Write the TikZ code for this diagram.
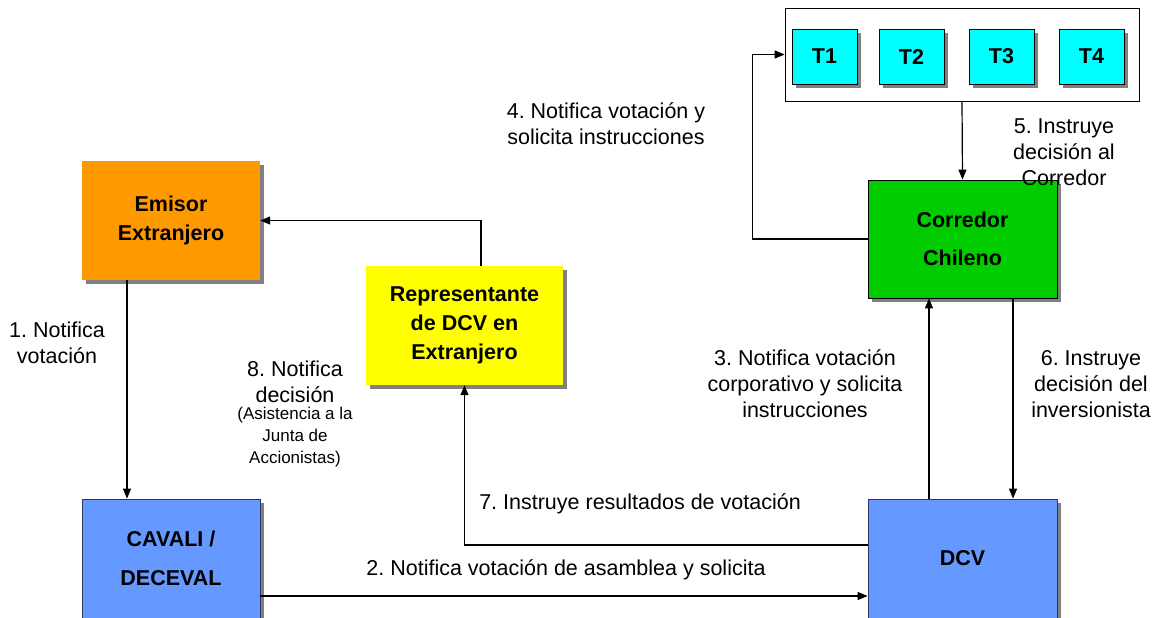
\documentclass[tikz,border=0pt]{standalone}
\usepackage{fontspec}
\setmainfont{Liberation Sans}
\usetikzlibrary{arrows.meta, shadows}

\definecolor{emisorcol}{HTML}{FF9900}
\definecolor{reprcol}{HTML}{FFFF00}
\definecolor{bluecol}{HTML}{6699FF}
\definecolor{greencol}{HTML}{00CC00}
\definecolor{cyancol}{HTML}{00FFFF}
\definecolor{shadowcol}{HTML}{808080}
\definecolor{blueborder}{HTML}{333366}

\begin{document}
\frenchspacing
\begin{tikzpicture}[x=1pt, y=-1pt,
  box/.style={inner sep=0pt, align=center, font=\bfseries\fontsize{21.5}{29}\selectfont,
    drop shadow={shadow xshift=4pt, shadow yshift=-4pt, fill=shadowcol, opacity=1}},
  tbox/.style={box, draw=black, line width=0.8pt, fill=cyancol,
    minimum width=65pt, minimum height=55pt},
  lbl/.style={inner sep=0pt, align=center, font=\fontsize{21.5}{26}\selectfont},
  note/.style={inner sep=0pt, align=center, font=\fontsize{17}{22}\selectfont},
  arr/.style={-{Triangle[length=10pt,width=8pt]}, line width=1.2pt},
]
\useasboundingbox (0,0) rectangle (1165,618);
% Boxes
\node[box, fill=emisorcol, minimum width=178pt, minimum height=119pt] (emisor) at (171,220.5) {Emisor\\Extranjero};
\node[box, fill=reprcol, minimum width=197pt, minimum height=119pt] (repr) at (464.5,325.5) {Representante\\de DCV en\\Extranjero};
\node[box, fill=bluecol, draw=blueborder, line width=0.8pt, minimum width=178pt, minimum height=119pt,
  font=\bfseries\fontsize{21.5}{39}\selectfont] (cavali) at (171,558.5) {CAVALI /\\DECEVAL};
\node[box, fill=greencol, draw=black, line width=0.8pt, minimum width=189pt, minimum height=118pt,
  font=\bfseries\fontsize{21.5}{38}\selectfont] (corredor) at (962.5,239) {Corredor\\Chileno};
\node[box, fill=bluecol, draw=blueborder, line width=0.8pt, minimum width=189pt, minimum height=119pt] (dcv) at (962.5,558.5) {DCV};
% Traders
\node[draw=black, line width=0.8pt, minimum width=354pt, minimum height=93pt, inner sep=0pt] (cont) at (962,54.5) {};
\node[tbox] (t1) at (824.5,56.5) {T1};
\node[tbox] (t2) at (911.5,56.5) {T2};
\node[tbox] (t3) at (1001.5,56.5) {T3};
\node[tbox] (t4) at (1091.5,56.5) {T4};
% Labels
\node[lbl] (l1) at (57,342.5) {1. Notifica\\votación};
\node[lbl] (l2) at (566,570) {2. Notifica votación de asamblea y solicita};
\node[lbl] (l3) at (805,384) {3. Notifica votación\\corporativo y solicita\\instrucciones};
\node[lbl] (l4) at (606,123.5) {4. Notifica votación y\\solicita instrucciones};
\node[lbl] (l5) at (1064,152.5) {5. Instruye\\decisión al\\Corredor};
\node[lbl] (l6) at (1091,384) {6. Instruye\\decisión del\\inversionista};
\node[lbl] (l7) at (640,504) {7. Instruye resultados de votación};
\node[lbl] (l8) at (295,381.5) {8. Notifica\\decisión};
\node[note] (l8note) at (295,437) {(Asistencia a la\\Junta de\\Accionistas)};
% Connectors
\draw[arr] ([xshift=-44pt]emisor.south) -- ([xshift=-44pt]cavali.north);
\draw[arr] ([yshift=-37.5pt]cavali.east) -- ([yshift=-37.5pt]dcv.west);
\draw[arr] ([xshift=-33.5pt]dcv.north) -- ([xshift=-33.5pt]corredor.south);
\draw[arr] (corredor.west) -- ++(-115,0) |- (cont.west);
\draw[arr] (cont.south) -- (corredor.north);
\draw[arr] ([xshift=50.5pt]corredor.south) -- ([xshift=50.5pt]dcv.north);
\draw[arr] ([yshift=13.5pt]dcv.west) -| (repr.south);
\draw[arr] ([xshift=16.5pt]repr.north) |- (emisor.east);
\end{tikzpicture}
\end{document}
